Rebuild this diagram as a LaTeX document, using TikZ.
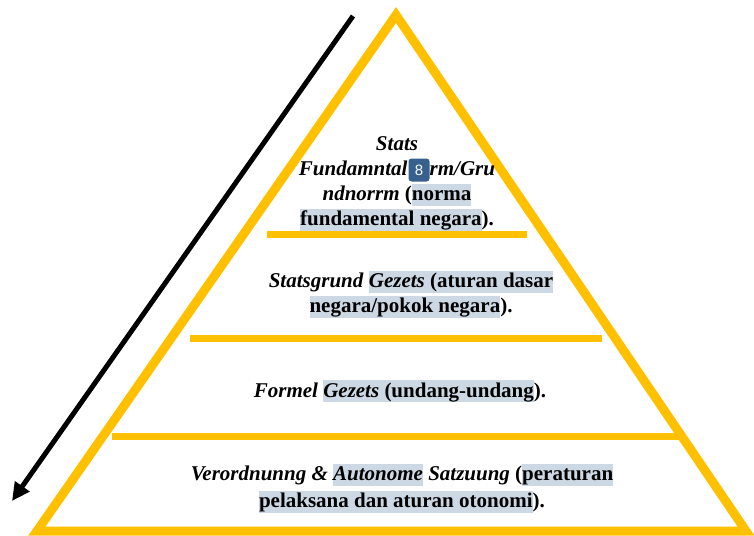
\documentclass[tikz,border=0pt]{standalone}
\usepackage{fontspec}
\setmainfont{Liberation Serif}
\setsansfont{Liberation Sans}
\usetikzlibrary{arrows.meta}

\begin{document}
\begin{tikzpicture}[x=1pt,y=-1pt,
    layer/.style={draw=gold,line width=7pt},
    lbl/.style={align=center,inner sep=0pt,font=\rmfamily\fontsize{21}{25}\selectfont\bfseries}]
  % Color definitions
  \definecolor{gold}{RGB}{255,192,0}      % pyramid
  \definecolor{hlblue}{RGB}{204,216,227}  % highlighted words
  \definecolor{badge}{RGB}{55,96,140}     % comment badge

  % Helper macro  {highlighted text}
  \newcommand{\hl}[1]{{\setlength{\fboxsep}{0pt}\colorbox{hlblue}{\rule[-5pt]{0pt}{22pt}#1}}}

  \useasboundingbox (0,0) rectangle (754,535);

  % Pyramid outline
  \coordinate (top) at (396,15);
  \coordinate (bl) at (37,531);
  \coordinate (br) at (746,531);
  \draw[gold,line width=9pt] (top) -- (br) -- (bl) -- cycle;

  % Dividing levels
  \coordinate (l1a) at (267,234);
  \coordinate (l1b) at (527,234);
  \coordinate (l2a) at (190,338);
  \coordinate (l2b) at (602,338);
  \coordinate (l3a) at (112,436);
  \coordinate (l3b) at (685,436);
  \draw[layer] (l1a) -- (l1b);
  \draw[layer] (l2a) -- (l2b);
  \draw[layer] (l3a) -- (l3b);

  % Hierarchy arrow, top to bottom
  \coordinate (arrtop) at (353,16);
  \coordinate (arrend) at (12,501);
  \draw[line width=5pt,-{Triangle[length=18pt,width=17pt]}] (arrtop) -- (arrend);

  % Level texts
  \node[lbl] (grundnorm) at (397,184) {\textit{Stats}\\
    \textit{Fundamntal\hphantom{no}rm/Gru}\\
    \textit{ndnorrm} (\hl{norma}\\
    \hl{fundamental negara}).};
  \node[lbl] (grundgesetz) at (411,294) {\textit{Statsgrund} \hl{\textit{Gezets} (aturan dasar}\\
    \hl{negara/pokok negara}).};
  \node[lbl] (formell) at (400,391) {\textit{Formel} \hl{\textit{Gezets} (undang-undang}).};
  \node[lbl,font=\rmfamily\fontsize{21}{27}\selectfont\bfseries] (verordnung) at (402,488)
    {\textit{Verordnunng \&} \hl{\textit{Autonome}} \textit{Satzuung} (\hl{peraturan}\\
    \hl{pelaksana dan aturan otonomi}).};

  % Comment badge
  \node[fill=badge,rounded corners=3pt,minimum width=21pt,minimum height=23pt,inner sep=0pt,
    text=white,font=\sffamily\fontsize{15}{15}\selectfont] (note) at (419,170) {8};
\end{tikzpicture}
\end{document}
